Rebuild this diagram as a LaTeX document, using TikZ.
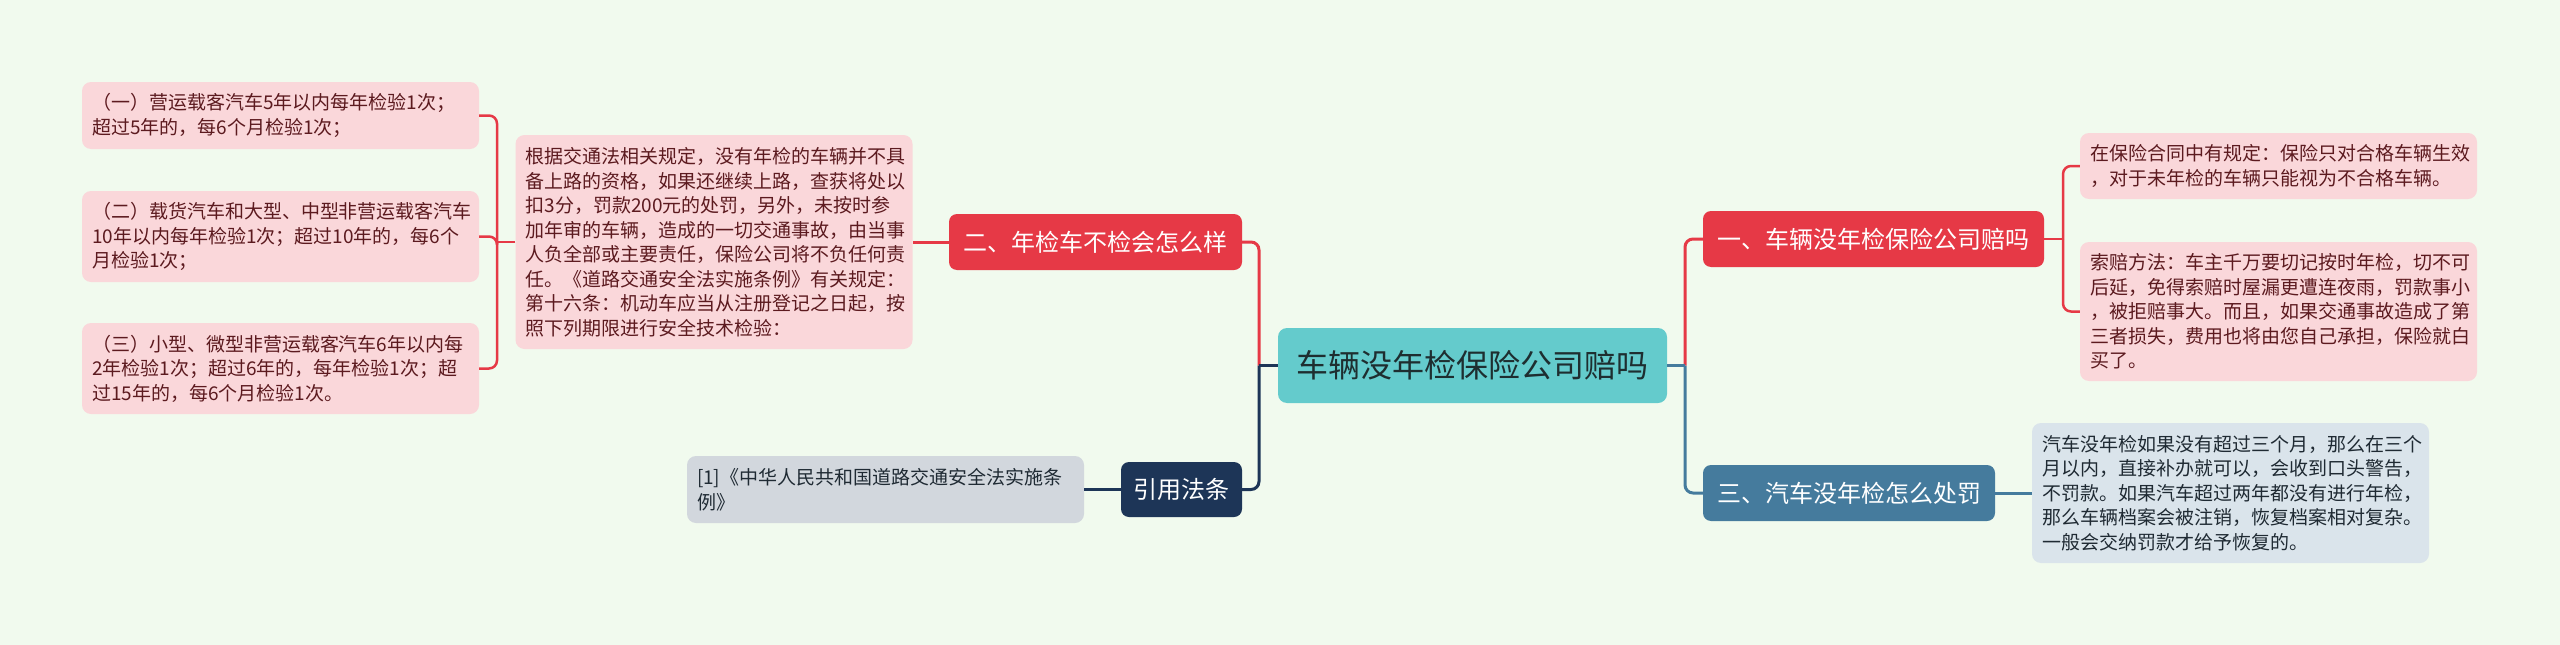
\documentclass[tikz,border=0pt]{standalone}
\usepackage{fontspec}
\newfontfamily\cjk{Noto Sans CJK SC}
\definecolor{bg}{HTML}{F1FAEE}
\definecolor{cred}{HTML}{E63946}
\definecolor{cblue}{HTML}{457B9D}
\definecolor{cnavy}{HTML}{1D3557}
\definecolor{cteal}{HTML}{64CBCC}
\definecolor{lpink}{HTML}{FAD7DA}
\definecolor{lblue}{HTML}{DAE4EB}
\definecolor{lgray}{HTML}{D2D7DD}
\definecolor{tpink}{HTML}{5C1A1F}
\definecolor{tdark}{HTML}{1F2A33}
\definecolor{tcent}{HTML}{1E2E30}
\tikzset{
  leafbox/.style={rounded corners=9pt, inner xsep=10pt, inner ysep=0pt, align=left,
    text width=377pt, font={\cjk\fontsize{19}{24.5}\selectfont}},
  pinkleaf/.style={leafbox, fill=lpink, text=tpink},
  branchbox/.style={rounded corners=8pt, inner sep=0pt, align=center, text=white,
    minimum height=56pt, font={\cjk\fontsize{24}{28}\selectfont}},
  link/.style={line width=3pt, rounded corners=8pt},
  sublink/.style={line width=2.5pt, rounded corners=8pt},
}
\begin{document}
\begin{tikzpicture}[x=1pt,y=-1pt]
\fill[bg] (0,0) rectangle (2560,645);

% central
\node[rounded corners=9pt, fill=cteal, text=tcent, inner sep=0pt, minimum width=389pt, minimum height=75pt,
  font={\cjk\fontsize{32}{36}\selectfont}] (central) at (1472.5,365.5) {车辆没年检保险公司赔吗};

% branches
\node[branchbox, fill=cred, minimum width=341pt] (b1) at (1873.5,239) {一、车辆没年检保险公司赔吗};
\node[branchbox, fill=cblue, minimum width=292pt] (b3) at (1849,493) {三、汽车没年检怎么处罚};
\node[branchbox, fill=cred, minimum width=293pt] (b2) at (1095.5,242) {二、年检车不检会怎么样};
\node[branchbox, fill=cnavy, minimum width=121pt, minimum height=55pt] (cite) at (1181.5,489.5) {引用法条};

% right leaves
\node[pinkleaf, minimum height=66pt] (l1a) at (2278.5,166) {在保险合同中有规定：保险只对合格车辆生效\\，对于未年检的车辆只能视为不合格车辆。};
\node[pinkleaf, minimum height=139pt] (l1b) at (2278.5,311.5) {索赔方法：车主千万要切记按时年检，切不可\\后延，免得索赔时屋漏更遭连夜雨，罚款事小\\，被拒赔事大。而且，如果交通事故造成了第\\三者损失，费用也将由您自己承担，保险就白\\买了。};
\node[leafbox, fill=lblue, text=tdark, minimum height=140pt] (l3) at (2230.5,493) {汽车没年检如果没有超过三个月，那么在三个\\月以内，直接补办就可以，会收到口头警告，\\不罚款。如果汽车超过两年都没有进行年检，\\那么车辆档案会被注销，恢复档案相对复杂。\\一般会交纳罚款才给予恢复的。};

% left leaves
\node[pinkleaf, minimum height=214pt] (l2) at (714,242) {根据交通法相关规定，没有年检的车辆并不具\\备上路的资格，如果还继续上路，查获将处以\\扣3分，罚款200元的处罚，另外，未按时参\\加年审的车辆，造成的一切交通事故，由当事\\人负全部或主要责任，保险公司将不负任何责\\任。《道路交通安全法实施条例》有关规定：\\第十六条：机动车应当从注册登记之日起，按\\照下列期限进行安全技术检验：};
\node[pinkleaf, minimum height=67pt] (l2a) at (280.5,115.5) {（一）营运载客汽车5年以内每年检验1次；\\超过5年的，每6个月检验1次；};
\node[pinkleaf, minimum height=91pt] (l2b) at (280.5,236.5) {（二）载货汽车和大型、中型非营运载客汽车\\10年以内每年检验1次；超过10年的，每6个\\月检验1次；};
\node[pinkleaf, minimum height=91pt] (l2c) at (280.5,368.5) {（三）小型、微型非营运载客汽车6年以内每\\2年检验1次；超过6年的，每年检验1次；超\\过15年的，每6个月检验1次。};
\node[leafbox, fill=lgray, text=tdark, minimum height=67pt] (ref) at (885.5,489.5) {[1]《中华人民共和国道路交通安全法实施条\\例》};

% junctions
\coordinate (jl) at (1259,365.5);
\coordinate (jr) at (1685,365.5);
\coordinate (j1) at (2063,239);
\coordinate (j2) at (497,242);

% main connectors
\draw[link, cred] (jl) |- (b2.east);
\draw[link, cnavy] (jl) |- (cite.east);
\draw[link, cnavy] (jl) -- (central.west);
\draw[link, cred] (jr) |- (b1.west);
\draw[link, cblue] (jr) |- (b3.west);
\draw[link, cblue] (central.east) -- (jr);
\draw[link, cred] (b2.west) -- (l2.east);
\draw[link, cnavy] (cite.west) -- (ref.east);
\draw[link, cblue] (b3.east) -- (l3.west);

% leaf connectors
\draw[sublink, cred] (b1.east) -- (j1);
\draw[sublink, cred] (j1) |- (l1a.west);
\draw[sublink, cred] (j1) |- (l1b.west);
\draw[sublink, cred] (l2.west) -- (j2);
\draw[sublink, cred] (j2) |- (l2a.east);
\draw[sublink, cred] (j2) |- (l2b.east);
\draw[sublink, cred] (j2) |- (l2c.east);
\end{tikzpicture}
\end{document}
